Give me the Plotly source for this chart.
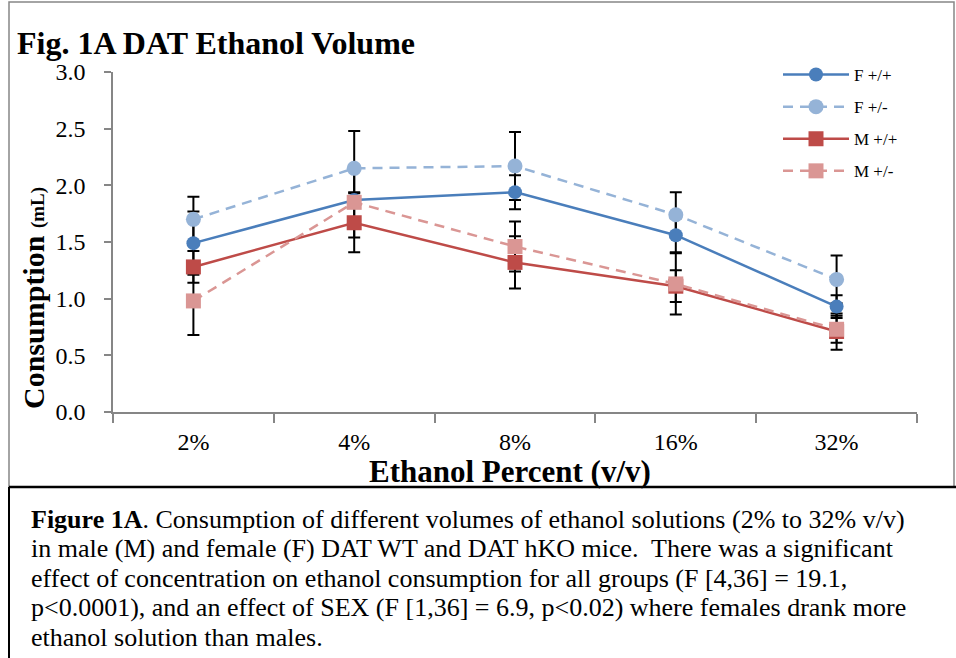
import plotly.graph_objects as go

# Ethanol concentrations offered (v/v)
concentrations = ["2%", "4%", "8%", "16%", "32%"]

# Mean consumption (mL) per group
f_wt = [1.49, 1.87, 1.94, 1.56, 0.93]      # F +/+
f_het = [1.70, 2.15, 2.17, 1.74, 1.17]     # F +/-
m_wt = [1.28, 1.67, 1.32, 1.11, 0.71]      # M +/+
m_het = [0.98, 1.85, 1.46, 1.13, 0.73]     # M +/-

# Standard error of the mean (mL)
f_wt_err = [0.28, 0.07, 0.15, 0.15, 0.10]
f_het_err = [0.20, 0.33, 0.30, 0.20, 0.21]
m_wt_err = [0.14, 0.26, 0.23, 0.14, 0.16]
m_het_err = [0.30, 0.31, 0.22, 0.27, 0.12]

group_names = ["F +/+", "F +/-", "M +/+", "M +/-"]
group_means = [f_wt, f_het, m_wt, m_het]
group_errs = [f_wt_err, f_het_err, m_wt_err, m_het_err]

y_ticks = [0.0, 0.5, 1.0, 1.5, 2.0, 2.5, 3.0]

caption_lines = [
    "<b>Figure 1A</b>. Consumption of different volumes of ethanol solutions (2% to 32% v/v)",
    "in male (M) and female (F) DAT WT and DAT hKO mice.  There was a significant",
    "effect of concentration on ethanol consumption for all groups (F [4,36] = 19.1,",
    "p&lt;0.0001), and an effect of SEX (F [1,36] = 6.9, p&lt;0.02) where females drank more",
    "ethanol solution than males.",
]

W_PAGE, H_PAGE = 956, 658
L, R, T, B = 113, 39, 72, 246
PW = W_PAGE - L - R
PH = H_PAGE - T - B


def px(xp):
    return (xp - L) / PW


def py(yp):
    return (H_PAGE - B - yp) / PH


styles = [
    dict(color="#4A7EBB", dash="solid", symbol="circle", size=14),
    dict(color="#95B3D7", dash="10px,7px", symbol="circle", size=15),
    dict(color="#BE4B48", dash="solid", symbol="square", size=15),
    dict(color="#DA9694", dash="10px,7px", symbol="square", size=15),
]

fig = go.Figure()

# Error bars first so that every marker sits on top of them
for means, errs in zip(group_means, group_errs):
    fig.add_trace(go.Scatter(
        x=concentrations, y=means, mode="markers",
        marker=dict(size=1, opacity=0),
        error_y=dict(type="data", array=errs, visible=True,
                     color="black", thickness=2, width=6),
        showlegend=False, hoverinfo="skip",
    ))

for name, means, st in zip(group_names, group_means, styles):
    fig.add_trace(go.Scatter(
        x=concentrations, y=means, name=name, mode="lines+markers",
        legendgroup=name,
        line=dict(color=st["color"], width=2.5, dash=st["dash"]),
        marker=dict(color=st["color"], symbol=st["symbol"], size=st["size"],
                    line=dict(width=0)),
    ))

serif = "Liberation Serif, Times New Roman, serif"

fig.update_layout(
    width=W_PAGE, height=H_PAGE,
    margin=dict(l=L, r=R, t=T, b=B),
    paper_bgcolor="white", plot_bgcolor="white",
    font=dict(family=serif, color="black"),
    title=dict(text="<b>Fig. 1A DAT Ethanol Volume</b>",
               font=dict(family=serif, size=32, color="black"),
               xref="container", yref="container",
               x=17 / W_PAGE, xanchor="left",
               y=1 - 43 / H_PAGE, yanchor="middle"),
    xaxis=dict(
        type="category", showgrid=False, zeroline=False,
        showline=True, linecolor="#868686", linewidth=1.5,
        ticks="outside", tickson="boundaries", ticklen=9,
        tickcolor="#868686", tickwidth=1.5,
        tickfont=dict(family=serif, size=24),
        ticklabelstandoff=7,
        range=[-0.5, 4.5],
    ),
    yaxis=dict(
        range=[0, 3], tickvals=y_ticks,
        ticktext=[f"{v:.1f}" for v in y_ticks],
        showgrid=False, zeroline=False,
        showline=True, linecolor="#868686", linewidth=1.5,
        ticks="outside", ticklen=7, tickcolor="#868686", tickwidth=1.5,
        tickfont=dict(family=serif, size=24),
        ticklabelstandoff=14,
    ),
    legend=dict(
        x=px(778), xanchor="left", y=py(57), yanchor="top",
        font=dict(family=serif, size=17), bgcolor="rgba(0,0,0,0)",
        tracegroupgap=7, itemwidth=66,
    ),
    showlegend=True,
)

annotations = [
    dict(text="<b>Consumption <span style='font-size:19px'>(mL)</span></b>",
         textangle=-90, xref="paper", yref="paper",
         x=px(33), y=py(298), xanchor="center", yanchor="middle",
         showarrow=False, font=dict(family=serif, size=30)),
    dict(text="<b>Ethanol Percent (v/v)</b>",
         xref="paper", yref="paper", x=px(510), y=py(471),
         xanchor="center", yanchor="middle", showarrow=False,
         font=dict(family=serif, size=31)),
]

# Caption: one annotation per line so the line spacing stays tight
caption_centers = [519, 548.5, 578, 607.5, 637]
for line, yc in zip(caption_lines, caption_centers):
    annotations.append(dict(
        text=line, xref="paper", yref="paper", x=px(29), y=py(yc),
        xanchor="left", yanchor="middle", align="left", showarrow=False,
        font=dict(family=serif, size=26),
    ))
fig.update_layout(annotations=annotations)

shapes = [
    # chart frame
    dict(type="rect", xref="paper", yref="paper",
         x0=px(9), x1=px(954), y0=py(487), y1=py(2),
         line=dict(color="#868686", width=1.5)),
    # caption box
    dict(type="line", xref="paper", yref="paper",
         x0=px(9), x1=px(956), y0=py(487), y1=py(487),
         line=dict(color="black", width=2.5)),
    dict(type="line", xref="paper", yref="paper",
         x0=px(9), x1=px(9), y0=py(487), y1=py(660),
         line=dict(color="black", width=2)),
]
fig.update_layout(shapes=shapes)

fig.write_html("out.html")
